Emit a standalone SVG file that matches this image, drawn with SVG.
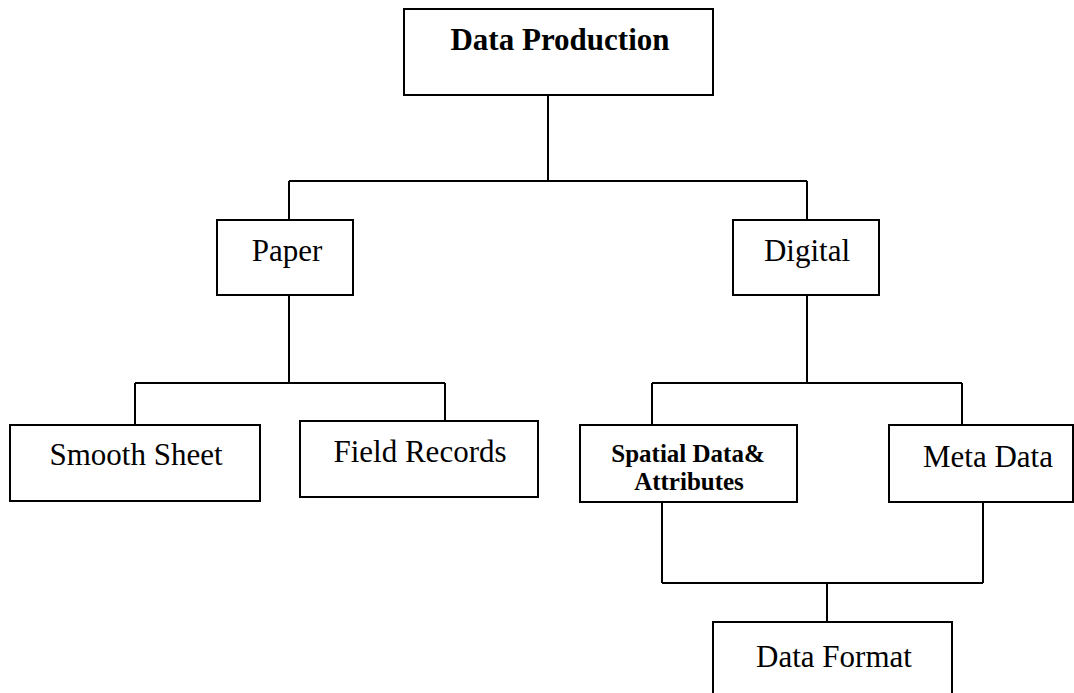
<svg xmlns="http://www.w3.org/2000/svg" width="1074" height="693" viewBox="0 0 1074 693">
  <style>
    .box { fill: #ffffff; stroke: #000000; stroke-width: 2; }
    .conn { fill: none; stroke: #000000; stroke-width: 2; }
    .lbl { font-family: "Liberation Serif", "Times New Roman", serif; font-size: 31px; fill: #000000; text-anchor: middle; }
    .bold { font-weight: bold; }
    .small { font-size: 25px; }
  </style>
  <rect width="1074" height="693" fill="#ffffff"/>
  <g id="connectors">
    <path class="conn" d="M548,95 V181 M289,181 H807 M289,181 V222 M807,181 V222"/>
    <path class="conn" d="M289,295 V383 M135,383 H445 M135,383 V425 M445,383 V424"/>
    <path class="conn" d="M807,295 V383 M652,383 H962 M652,383 V425 M962,383 V425"/>
    <path class="conn" d="M662,497 V583 M983,497 V583 M662,583 H983 M827,583 V626"/>
  </g>
  <g id="node-data-production">
    <rect class="box" x="404" y="9" width="309" height="86"/>
    <text class="lbl bold" x="560" y="50">Data Production</text>
  </g>
  <g id="node-paper">
    <rect class="box" x="217" y="220" width="136" height="75"/>
    <text class="lbl" x="287" y="261">Paper</text>
  </g>
  <g id="node-digital">
    <rect class="box" x="733" y="220" width="146" height="75"/>
    <text class="lbl" x="807" y="261">Digital</text>
  </g>
  <g id="node-smooth-sheet">
    <rect class="box" x="10" y="425" width="250" height="76"/>
    <text class="lbl" x="136" y="465">Smooth Sheet</text>
  </g>
  <g id="node-field-records">
    <rect class="box" x="300" y="421" width="238" height="76"/>
    <text class="lbl" x="420" y="462">Field Records</text>
  </g>
  <g id="node-spatial-data">
    <rect class="box" x="580" y="425" width="217" height="77"/>
    <text class="lbl bold small" x="688" y="462">Spatial Data&amp;</text>
    <text class="lbl bold small" x="689" y="490">Attributes</text>
  </g>
  <g id="node-meta-data">
    <rect class="box" x="889" y="425" width="184" height="77"/>
    <text class="lbl" x="988" y="467">Meta Data</text>
  </g>
  <g id="node-data-format">
    <rect class="box" x="713" y="622" width="239" height="90"/>
    <text class="lbl" x="834" y="667">Data Format</text>
  </g>
</svg>
